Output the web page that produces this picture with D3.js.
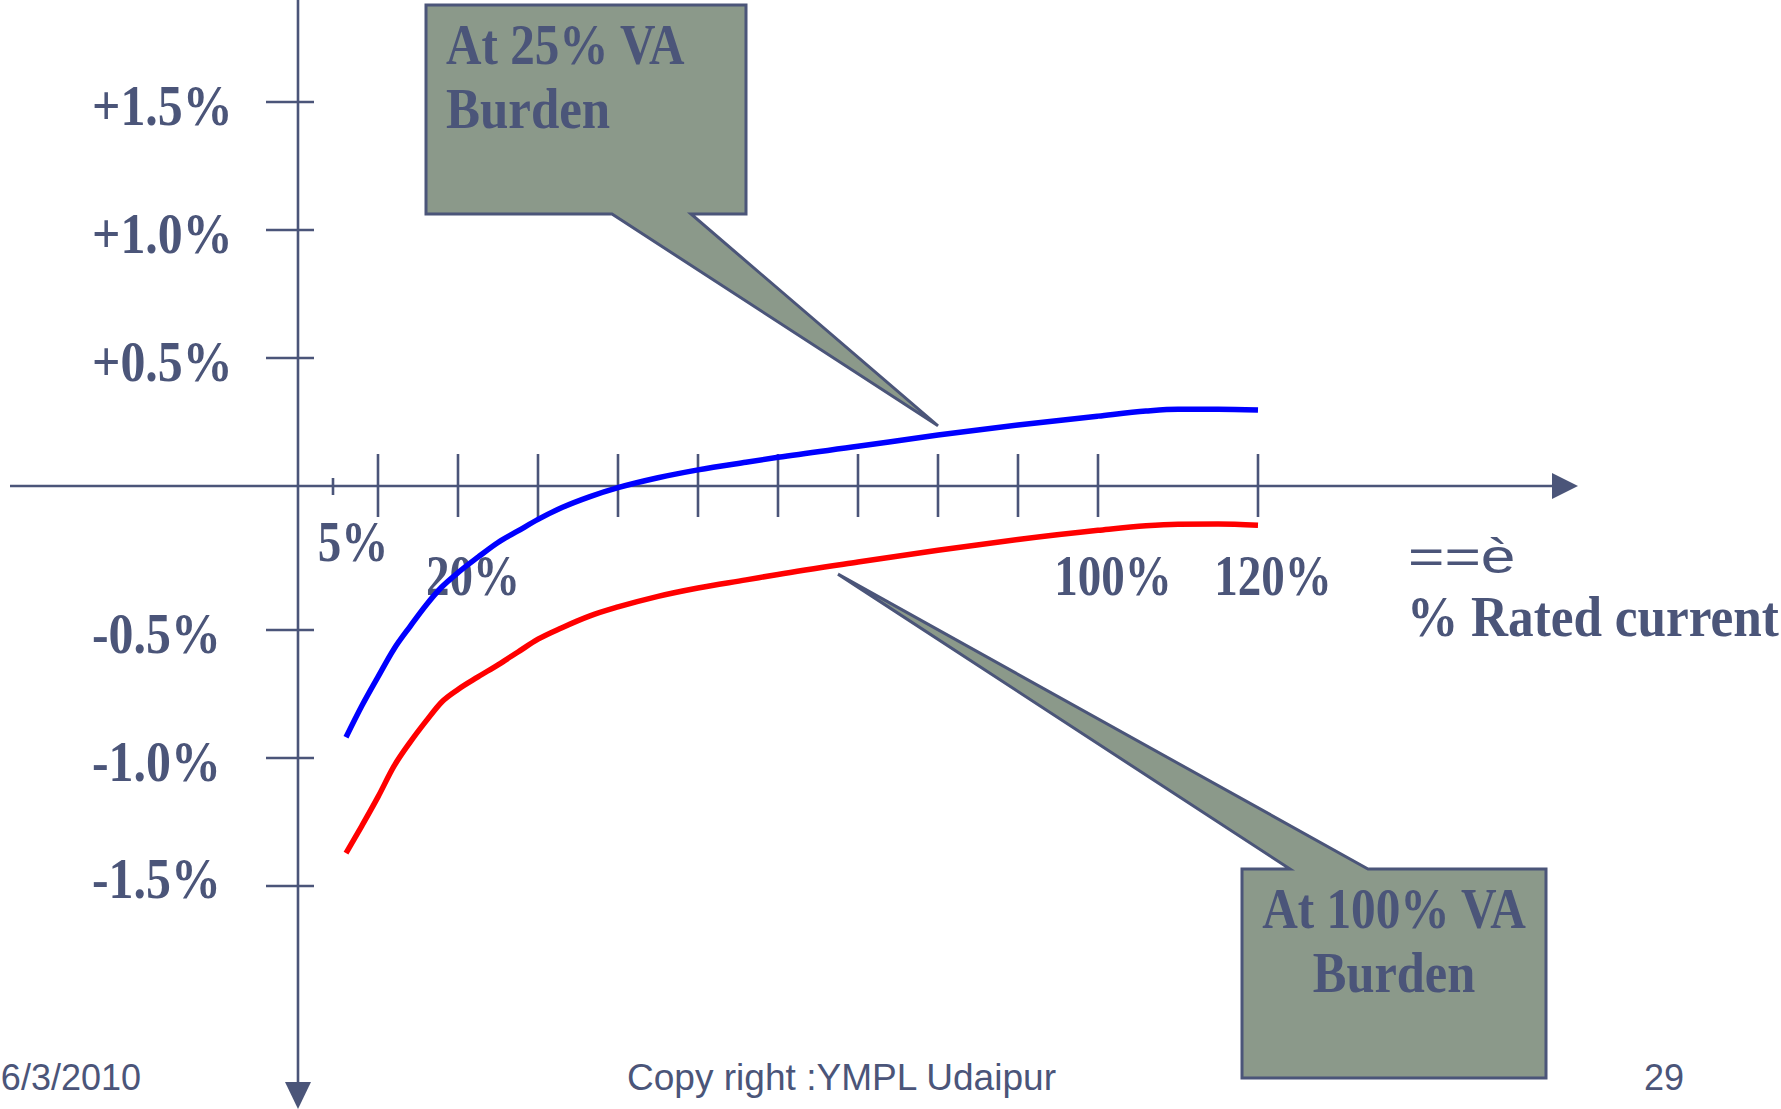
<!DOCTYPE html>
<html>
<head>
<meta charset="utf-8">
<script src="https://cdn.jsdelivr.net/npm/d3@7"></script>
<style>
  html, body { margin: 0; padding: 0; background: #ffffff; }
  svg { display: block; }
</style>
</head>
<body>
<svg id="chart" width="1781" height="1109"></svg>
<script>
// Ratio error (%) of a current transformer versus % of rated current
const ratedCurrent = [6, 8, 10, 12, 14, 16, 18, 20, 22.5, 25, 27.5, 30, 33, 36.5, 40, 45, 50, 56, 60, 70, 80, 90, 100, 106, 110, 115, 120];
const errorAt25VA = [-0.919, -0.795, -0.683, -0.574, -0.488, -0.414, -0.350, -0.301, -0.247, -0.196, -0.156, -0.116, -0.075, -0.037, -0.006, 0.032, 0.063, 0.093, 0.112, 0.155, 0.199, 0.238, 0.273, 0.293, 0.300, 0.300, 0.297];
const errorAt100VA = [-1.372, -1.264, -1.152, -1.032, -0.939, -0.856, -0.780, -0.732, -0.683, -0.636, -0.586, -0.536, -0.492, -0.451, -0.420, -0.383, -0.354, -0.326, -0.307, -0.264, -0.223, -0.186, -0.154, -0.138, -0.133, -0.132, -0.136];

const yTickValues = [1.5, 1.0, 0.5, -0.5, -1.0, -1.5];
const yTickLabels = ["+1.5%", "+1.0%", "+0.5%", "-0.5%", "-1.0%", "-1.5%"];
const xTickValues = [10, 20, 30, 40, 50, 60, 70, 80, 90, 100, 120];
const xMinorTicks = [5];
const xLabelValues = [5, 20, 100, 120];
const xLabels = ["5%", "20%", "100%", "120%"];

const calloutTexts = [["At 25% VA", "Burden"], ["At 100% VA", "Burden"]];
const calloutTargets = [[80, 0.235], [67.5, -0.306]];

const INK = "#4b5579";
const BOX = "#8b998a";
const SERIF = "'Liberation Serif', 'Times New Roman', serif";
const SANS = "'Liberation Sans', Arial, sans-serif";

const svg = d3.select("#chart");
svg.append("rect").attr("width", 1781).attr("height", 1109).attr("fill", "#ffffff");

// scales: the vertical axis is drawn polylinear so each hand-placed tick lands where it belongs
const x = d3.scaleLinear().domain([0, 120]).range([298, 1258]);
const y = d3.scaleLinear().domain([-1.5, -0.5, 0, 1.5]).range([886, 630, 486, 102]);

// bold, horizontally condensed serif text
function serifText(sel, txt, tx, ty, sx, anchor) {
  return sel.append("text")
    .attr("transform", `translate(${tx},${ty}) scale(${sx},1)`)
    .attr("text-anchor", anchor || "start")
    .attr("font-family", SERIF)
    .attr("font-weight", "bold")
    .attr("font-size", 56)
    .attr("fill", INK)
    .text(txt);
}

// callouts (drawn first so the curves sit on top)
const callouts = svg.append("g");
{
  const [tx, ty] = [x(calloutTargets[0][0]), y(calloutTargets[0][1])];
  callouts.append("path")
    .attr("d", `M426,5 H746 V214 H691 L${tx},${ty} L612,214 H426 Z`)
    .attr("fill", BOX).attr("stroke", INK).attr("stroke-width", 3).attr("stroke-linejoin", "miter");
  calloutTexts[0].forEach((t, i) => serifText(callouts, t, 446, 64 + i * 64, i === 0 ? 0.878 : 0.91, "start"));
}
{
  const [tx, ty] = [x(calloutTargets[1][0]), y(calloutTargets[1][1])];
  callouts.append("path")
    .attr("d", `M1242,869 H1290 L${tx},${ty} L1368,869 H1546 V1078 H1242 Z`)
    .attr("fill", BOX).attr("stroke", INK).attr("stroke-width", 3).attr("stroke-linejoin", "miter");
  calloutTexts[1].forEach((t, i) => serifText(callouts, t, 1394, 928 + i * 64, i === 0 ? 0.88 : 0.9, "middle"));
}

// axes
const axes = svg.append("g").attr("stroke", INK).attr("stroke-width", 2.6);
axes.append("line").attr("x1", 10).attr("x2", 1552).attr("y1", y(0)).attr("y2", y(0));
axes.append("line").attr("x1", x(0)).attr("x2", x(0)).attr("y1", 0).attr("y2", 1083);
svg.append("path").attr("fill", INK)
  .attr("d", `M1552,${y(0) - 13} L1578,${y(0)} L1552,${y(0) + 13} Z`);
svg.append("path").attr("fill", INK)
  .attr("d", `M${x(0) - 13},1082 L${x(0)},1109 L${x(0) + 13},1082 Z`);

axes.selectAll(".xt").data(xTickValues).enter().append("line")
  .attr("x1", d => x(d)).attr("x2", d => x(d))
  .attr("y1", y(0) - 32).attr("y2", y(0) + 31);
axes.selectAll(".xm").data(xMinorTicks).enter().append("line")
  .attr("x1", d => x(d) - 5).attr("x2", d => x(d) - 5)
  .attr("y1", y(0) - 8).attr("y2", y(0) + 9);
axes.selectAll(".yt").data(yTickValues).enter().append("line")
  .attr("x1", x(0) - 32).attr("x2", x(0) + 16)
  .attr("y1", d => y(d)).attr("y2", d => y(d));

// tick labels
yTickValues.forEach((v, i) =>
  serifText(svg, yTickLabels[i], 92, y(v) + (i === yTickValues.length - 1 ? 12 : 23), 0.89, "start"));
xLabelValues.forEach((v, i) =>
  serifText(svg, xLabels[i], x(v) + 15, i === 0 ? 561 : 595, 0.84, "middle"));

// axis title
svg.append("text")
  .attr("transform", "translate(1408,573) scale(1.3,1)")
  .attr("font-family", SANS).attr("font-size", 48).attr("fill", INK)
  .text("==è");
serifText(svg, "% Rated current", 1407, 636, 0.915, "start");

// error curves
const line = d3.line().x(d => x(d[0])).y(d => y(d[1])).curve(d3.curveMonotoneX);
svg.append("path")
  .datum(ratedCurrent.map((c, i) => [c, errorAt100VA[i]]))
  .attr("d", line).attr("fill", "none").attr("stroke", "#ff0000").attr("stroke-width", 5.5);
svg.append("path")
  .datum(ratedCurrent.map((c, i) => [c, errorAt25VA[i]]))
  .attr("d", line).attr("fill", "none").attr("stroke", "#0000ff").attr("stroke-width", 5.5);

// footer
const footer = svg.append("g").attr("font-family", SANS).attr("font-size", 36).attr("fill", INK);
footer.append("text").attr("x", 141).attr("y", 1090).attr("text-anchor", "end").text("6/3/2010");
footer.append("text").attr("x", 627).attr("y", 1090).attr("textLength", 429).attr("lengthAdjust", "spacingAndGlyphs").text("Copy right :YMPL Udaipur");
footer.append("text").attr("x", 1644).attr("y", 1090).text("29");
</script>
</body>
</html>
